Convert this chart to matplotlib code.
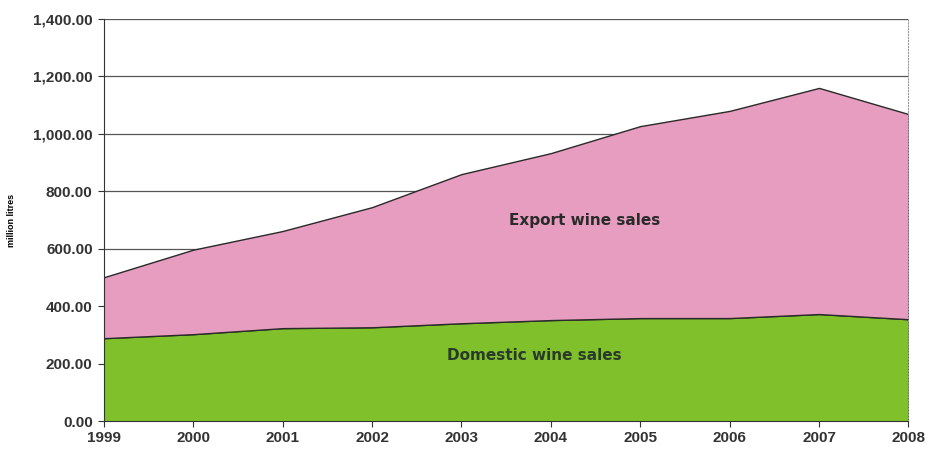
import numpy as np
import matplotlib.pyplot as plt

years = [1999, 2000, 2001, 2002, 2003, 2004, 2005, 2006, 2007, 2008]
domestic = [289, 303, 324, 327, 341, 352, 359, 359, 373, 355]
total = [501, 597, 662, 745, 860, 933, 1027, 1080, 1160, 1069]
export = [t - d for t, d in zip(total, domestic)]

plt.rcParams['font.family'] = ['Liberation Sans', 'DejaVu Sans']

fig = plt.figure(figsize=(9.27, 4.51), dpi=100)
ax = fig.add_axes([0.112, 0.066, 0.868, 0.892])

ax.stackplot(years, domestic, export, colors=['#80C02A', '#E69DBF'],
             edgecolor='#2a2a2a', linewidth=1.0, zorder=2)

ax.set_xlim(1999, 2008)
ax.set_ylim(0, 1400)
ax.set_xticks(years)
ax.set_yticks(np.arange(0, 1401, 200))
ax.yaxis.set_major_formatter(plt.FuncFormatter(lambda v, p: f'{v:,.2f}'))
ax.grid(axis='y', color='#555555', linewidth=0.9, zorder=1)
ax.set_axisbelow(True)

for lab in ax.get_xticklabels() + ax.get_yticklabels():
    lab.set_fontweight('bold')
    lab.set_fontsize(11)
    lab.set_color('#333333')

ax.tick_params(axis='y', length=4, color='#333333', pad=4)
ax.tick_params(axis='x', length=4, color='#333333', pad=3)

ax.spines['top'].set_visible(False)
ax.spines['right'].set_linestyle(':')
ax.spines['right'].set_color('#999999')
ax.spines['left'].set_color('#333333')
ax.spines['bottom'].set_color('#333333')

ax.set_ylabel('million litres', fontsize=6.5, fontweight='bold', labelpad=12)

ax.text(2004.38, 700, 'Export wine sales', fontsize=11, fontweight='bold',
        family='DejaVu Sans', color='#2a2a2a', ha='center', va='center', zorder=3)
ax.text(2003.82, 230, 'Domestic wine sales', fontsize=11, fontweight='bold',
        family='DejaVu Sans', color='#2a3a2a', ha='center', va='center', zorder=3)

fig.savefig('out.png', dpi=100)
